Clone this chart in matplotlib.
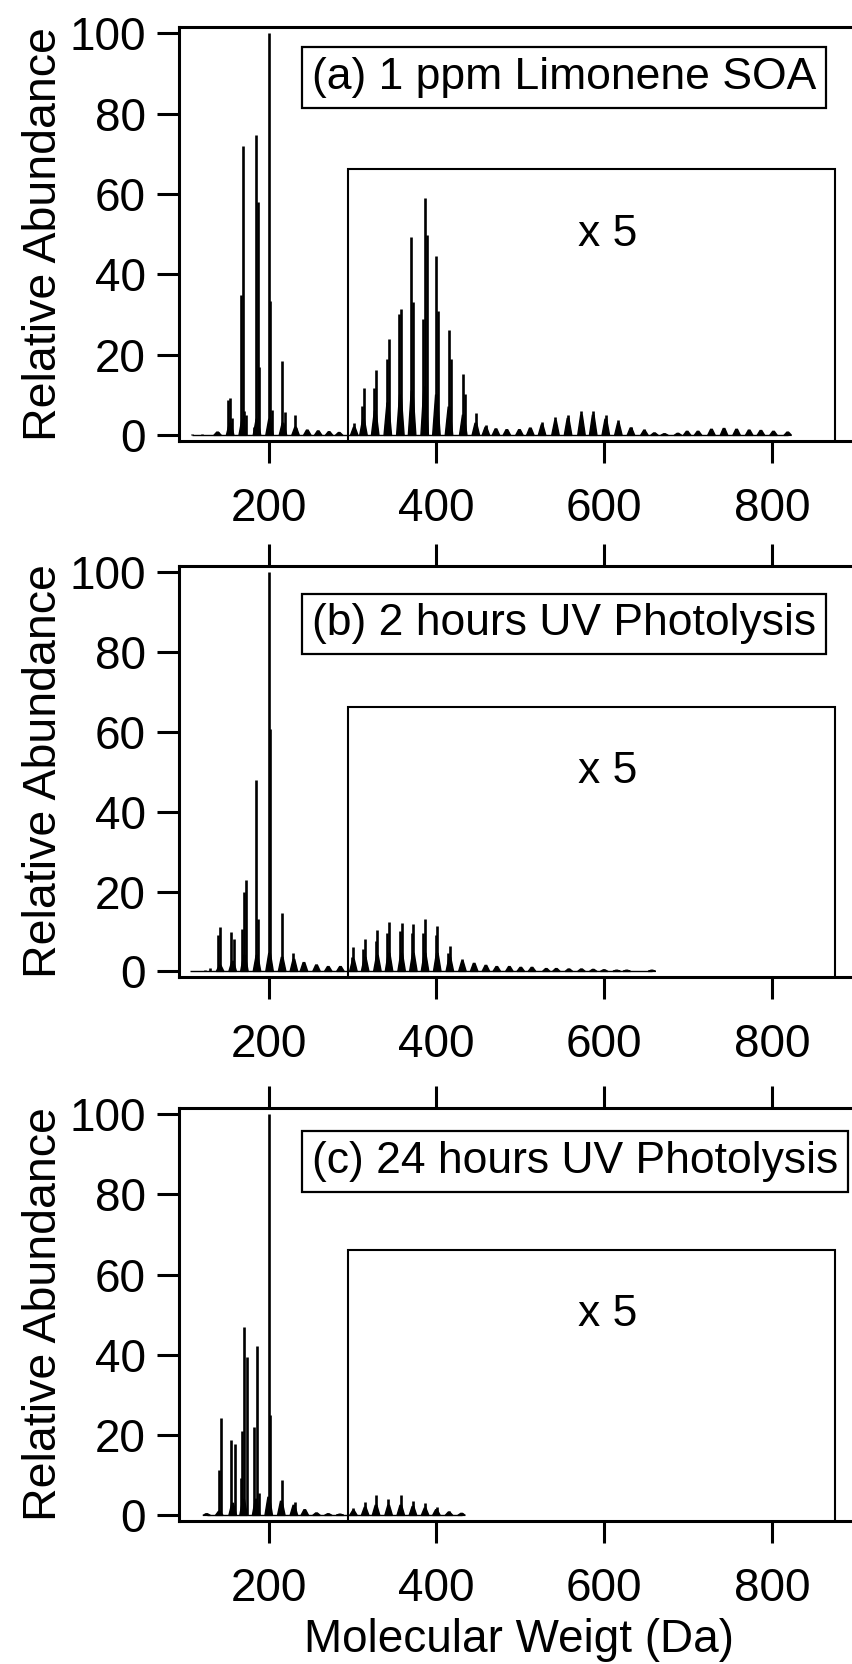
import numpy as np
import matplotlib
matplotlib.use('Agg')
import matplotlib.pyplot as plt

plt.rcParams['font.family'] = ['Liberation Sans', 'DejaVu Sans']

# ---- data (relative abundance; values above 295 Da are true values, drawn x5) ----
A_LOW_MZ = [108, 121, 139, 151, 154, 156, 167, 169, 171, 173, 183, 185, 187, 189,
            200, 202, 204, 216, 219, 231, 233]
A_LOW_INT = [0.3, 0.3, 0.8, 8.9, 9.3, 4.3, 35, 72, 6, 5, 2.2, 74.7, 58, 17,
             100, 33.4, 6.4, 18.4, 5.8, 5.1, 1.8]
A_LOW_FOOT_MZ = [139, 154, 169, 186, 201, 217, 232, 246, 259, 272, 284]
A_LOW_FOOT = [0.8, 3, 4, 4, 4, 3, 2, 1.3, 1.1, 0.9, 0.7]
A_HIGH_MZ = [302, 311.5, 313.7, 325.5, 327.6, 340.5, 343.5, 355.5, 357.8, 369.7,
             372, 384, 386.4, 388.5, 399.6, 402, 415, 417, 432, 434, 447.3, 458.8,
             526, 542, 557, 573, 587, 602, 617, 632, 648]
A_HIGH_INT = [0.62, 1.44, 2.36, 2.36, 3.24, 3.82, 4.8, 6.02, 6.26, 9.86,
              6.64, 5.76, 11.78, 9.96, 8.92, 6.18, 5.26, 3.78, 3.06, 2.08, 1.12, 0.5,
              0.66, 0.92, 1.02, 1.22, 1.22, 1.0, 0.74, 0.44, 0.34]
A_HIGH_FOOT_MZ = [302, 313, 327, 342, 357, 371, 386, 400, 415, 432, 447, 459, 471,
                  484, 499, 512, 526, 542, 557, 573, 587, 602, 617, 632, 648, 660,
                  672, 688, 699, 712, 728, 743, 758, 773, 787, 802, 819]
A_HIGH_FOOT = [0.4, 0.8, 1.2, 1.6, 2.0, 2.2, 2.4, 2.0, 1.4, 1.0, 0.6, 0.4, 0.32,
               0.28, 0.28, 0.36, 0.52, 0.72, 0.84, 1.0, 1.0, 0.8, 0.6, 0.36, 0.24, 0.12,
               0.08, 0.1, 0.2, 0.2, 0.3, 0.34, 0.3, 0.26, 0.24, 0.2, 0.16]

B_LOW_MZ = [106, 124, 130, 140, 142, 155, 159, 168, 170.5, 173.5, 185, 187.5,
            200, 202, 215.5, 229.5]
B_LOW_INT = [0.1, 0.4, 0.8, 9, 11.1, 9.9, 8.2, 10.7, 19.9, 22.8, 47.9, 13.2,
             100, 60.6, 14.5, 4.5]
B_LOW_FOOT_MZ = [142, 157, 171, 186, 201, 216, 230, 242, 257, 271, 285.5]
B_LOW_FOOT = [1.5, 2.5, 4, 4, 4.5, 3.5, 3, 2.2, 1.6, 1.2, 1.2]
B_HIGH_MZ = [299, 301, 313, 315, 327.5, 329.6, 341.5, 343.5, 356.5, 358.5, 370.5,
             372.5, 384.5, 386.4, 399, 401, 414, 416.3, 431]
B_HIGH_INT = [0.7, 1.22, 1.1, 1.64, 1.5, 2.06, 1.9, 2.48, 2.0, 2.44, 1.9,
              2.38, 1.9, 2.62, 1.8, 2.28, 0.9, 1.26, 0.64]
B_HIGH_FOOT_MZ = [301, 315, 329.6, 343.5, 358.5, 372.5, 386.4, 401, 416, 431, 445,
                  459, 472, 487, 500.6, 514, 531, 543, 558, 573, 587, 600, 615, 627, 657]
B_HIGH_FOOT = [0.6, 0.7, 0.8, 0.9, 0.9, 0.9, 0.9, 0.9, 0.7, 0.5, 0.4,
               0.3, 0.24, 0.24, 0.2, 0.2, 0.14, 0.14, 0.12, 0.12, 0.1, 0.08, 0.06, 0.06, 0.06]

C_LOW_MZ = [126, 138, 140.7, 143, 155, 159.8, 167, 168.5, 171, 173.8, 182.8, 185.7,
            188.4, 200, 201.8, 215.5, 231.4]
C_LOW_INT = [0.4, 0.3, 11.4, 24.2, 18.7, 17.7, 9.4, 21.1, 47, 39.4, 22, 42.3,
             5.5, 100, 25, 8.9, 3.3]
C_LOW_FOOT_MZ = [126, 141, 157, 170, 185, 200, 215, 230, 243, 257, 271, 285]
C_LOW_FOOT = [0.4, 1, 3, 4, 4, 4.5, 3.5, 2.5, 1.4, 0.6, 0.4, 0.3]
C_HIGH_MZ = [301, 315, 328, 342.7, 357.5, 371.8, 386.5, 400.4, 415.4, 430]
C_HIGH_INT = [0.38, 0.66, 1.0, 0.82, 1.0, 0.74, 0.6, 0.4, 0.2, 0.1]
C_HIGH_FOOT_MZ = [301, 315, 328, 343, 357.5, 372, 386.5, 400, 415, 430]
C_HIGH_FOOT = [0.24, 0.4, 0.5, 0.5, 0.5, 0.44, 0.36, 0.28, 0.16, 0.1]

LABELS = ['(a) 1 ppm Limonene SOA', '(b) 2 hours UV Photolysis',
          '(c) 24 hours UV Photolysis']
MAG = 5
X_TICKS = [200, 400, 600, 800]
Y_TICKS = [0, 20, 40, 60, 80, 100]

# ---- layout ----
W, H = 852, 1664
fig = plt.figure(figsize=(W / 100, H / 100), dpi=100)
XMIN, XMAX = 93, 900
YMIN, YMAX = -1.4, 101.5
left = 179 / W
width = (XMAX - XMIN) * 0.8385 / W
panel_px = [(27, 441), (566, 977), (1108, 1521)]   # top, bottom in pixels
label_y = [89.0, 87.0, 88.2]

panels = [
    (A_LOW_MZ, A_LOW_INT, A_LOW_FOOT_MZ, A_LOW_FOOT,
     A_HIGH_MZ, A_HIGH_INT, A_HIGH_FOOT_MZ, A_HIGH_FOOT),
    (B_LOW_MZ, B_LOW_INT, B_LOW_FOOT_MZ, B_LOW_FOOT,
     B_HIGH_MZ, B_HIGH_INT, B_HIGH_FOOT_MZ, B_HIGH_FOOT),
    (C_LOW_MZ, C_LOW_INT, C_LOW_FOOT_MZ, C_LOW_FOOT,
     C_HIGH_MZ, C_HIGH_INT, C_HIGH_FOOT_MZ, C_HIGH_FOOT),
]


def feet(ax, mz, h, scale, half=4.5):
    for c, b in zip(mz, h):
        ax.fill([c - half, c - 1, c + 1, c + half], [0, b * scale, b * scale, 0],
                color='black', lw=1.0, zorder=2)


for i, (pdata, (top, bot)) in enumerate(zip(panels, panel_px)):
    lo_mz, lo_int, lo_fmz, lo_f, hi_mz, hi_int, hi_fmz, hi_f = pdata
    ax = fig.add_axes([left, (H - bot) / H, width, (bot - top) / H])

    all_mz = lo_mz + lo_fmz + hi_mz + hi_fmz
    ax.hlines(0, min(all_mz), max(all_mz), color='black', lw=1.0, zorder=2)
    ax.vlines(lo_mz, 0, lo_int, color='black', lw=1.9, zorder=3)
    ax.vlines(hi_mz, 0, np.array(hi_int) * MAG, color='black', lw=1.9, zorder=3)
    feet(ax, lo_fmz, lo_f, 1)
    feet(ax, hi_fmz, hi_f, MAG)

    # x5 inset frame
    ax.plot([295, 295, 875, 875], [YMIN, 66.2, 66.2, YMIN], color='black',
            lw=1.5, zorder=4, solid_joinstyle='miter', clip_on=False)
    ax.text(604.8, 50, 'x 5', fontsize=32, ha='center', va='center')

    ax.text(251.6, label_y[i], LABELS[i], fontsize=32, ha='left', va='center',
            bbox=dict(boxstyle='square,pad=0.22', facecolor='white',
                      edgecolor='black', linewidth=1.6), zorder=5)

    ax.set_xlim(XMIN, XMAX)
    ax.set_ylim(YMIN, YMAX)
    ax.set_xticks(X_TICKS)
    ax.set_yticks(Y_TICKS)
    ax.tick_params(axis='both', direction='out', length=16, width=2.2,
                   labelsize=33)
    ax.tick_params(axis='x', pad=17, top=(i > 0), labeltop=False)
    ax.tick_params(axis='y', pad=8)
    for s in ax.spines.values():
        s.set_linewidth(2.2)

    fig.text(44 / W, 1 - (top + bot) / 2 / H, 'Relative Abundance', fontsize=33.5,
             rotation=90, ha='center', va='center')

fig.text(519.5 / W, 1 - 1640 / H, 'Molecular Weigt (Da)', fontsize=33,
         ha='center', va='center')

fig.savefig('out.png', dpi=100)
